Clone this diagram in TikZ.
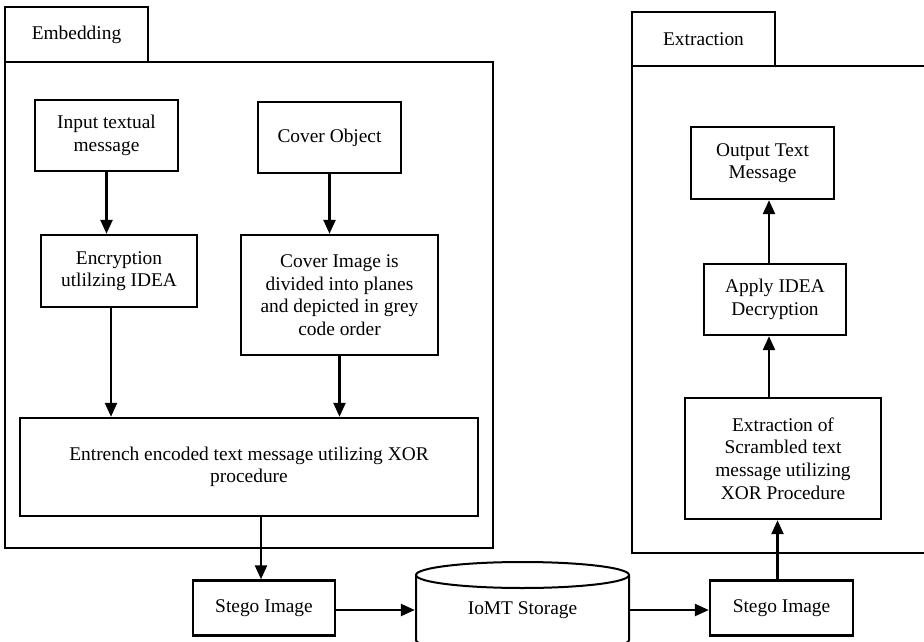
\documentclass[tikz,border=0pt]{standalone}
\usepackage{fontspec}
\setmainfont{Liberation Serif}
\usetikzlibrary{arrows.meta,calc}
\begin{document}
\begin{tikzpicture}[x=0.5pt,y=-0.5pt,
  box/.style={draw, line width=1.2pt, align=center, inner sep=0pt,
    font=\fontsize{9.7}{11.3}\selectfont},
  framebox/.style={draw, line width=1.2pt, inner sep=0pt},
  arr/.style={line width=1.2pt, -{Triangle[width=6pt,length=7pt]}}]
\useasboundingbox (0,0) rectangle (924,641);
\clip (0,0) rectangle (924,641);
% Embedding frame
\node[box, minimum width=71.5pt, minimum height=27.5pt] (tabE) at (76.5,34.5) {Embedding};
\node[framebox, minimum width=244pt, minimum height=243pt] (embF) at (249,305) {};
% Embedding boxes
\node[box, minimum width=71.5pt, minimum height=35.5pt] (in) at (106.5,135.5) {Input textual\\message};
\node[box, minimum width=71.5pt, minimum height=35.5pt] (cover) at (329.5,137.5) {Cover Object};
\node[box, minimum width=78pt, minimum height=36pt] (enc) at (119,271) {Encryption\\utlilzing IDEA};
\node[box, minimum width=98.5pt, minimum height=60pt] (cimg) at (339.5,295) {Cover Image is\\divided into planes\\and depicted in grey\\code order};
\node[box, minimum width=229pt, minimum height=49pt] (ent) at (249,467) {Entrench encoded text message utilizing XOR\\procedure};
% Bottom row
\node[box, minimum width=71pt, minimum height=27.5pt] (st1) at (264,608) {Stego Image};
\node[box, draw=none, minimum width=106.5pt, minimum height=30pt] (cyl) at (522.5,610) {IoMT Storage};
\draw[line width=1pt] (416,575) -- (416,640) arc[start angle=180,end angle=0,x radius=106.5,y radius=13] -- (629,575);
\draw[line width=1pt] (522.5,575) ellipse[x radius=106.5,y radius=13];
\node[box, minimum width=71.5pt, minimum height=27.5pt] (st2) at (781.5,608) {Stego Image};
% Extraction frame
\node[box, minimum width=71.5pt, minimum height=27pt] (tabX) at (703.5,39) {Extraction};
\draw[line width=1.2pt] (940,66) -- (632,66) -- (632,553) -- (940,553);
\node[box, minimum width=71.5pt, minimum height=36pt] (out) at (762.5,163) {Output Text\\Message};
\node[box, minimum width=71pt, minimum height=35.5pt] (dec) at (775,299.5) {Apply IDEA\\Decryption};
\node[box, minimum width=98pt, minimum height=60.5pt] (exo) at (783,458.5) {Extraction of\\Scrambled text\\message utilizing\\XOR Procedure};
% Connectors
\draw[arr] (in.south) -- (in.south |- enc.north);
\draw[arr] ([xshift=-4pt]enc.south) -- ([xshift=-4pt]enc.south |- ent.north);
\draw[arr] (cover.south) -- (cover.south |- cimg.north);
\draw[arr] (cimg.south) -- (cimg.south |- ent.north);
\draw[arr] ([xshift=-1.5pt]st1.north |- ent.south) -- ([xshift=-1.5pt]st1.north);
\draw[arr] ([yshift=-1pt]st1.east) -- ([yshift=-1pt]cyl.west |- st1.east);
\draw[arr] ([yshift=-1pt]cyl.east |- st2.west) -- ([yshift=-1pt]st2.west);
\draw[arr] ([xshift=-2pt]st2.north) -- ([xshift=-2pt]st2.north |- exo.south);
\draw[arr] ([xshift=-3pt]dec.south |- exo.north) -- ([xshift=-3pt]dec.south);
\draw[arr] ([xshift=-3pt]dec.north) -- ([xshift=-3pt]dec.north |- out.south);
\end{tikzpicture}
\end{document}
